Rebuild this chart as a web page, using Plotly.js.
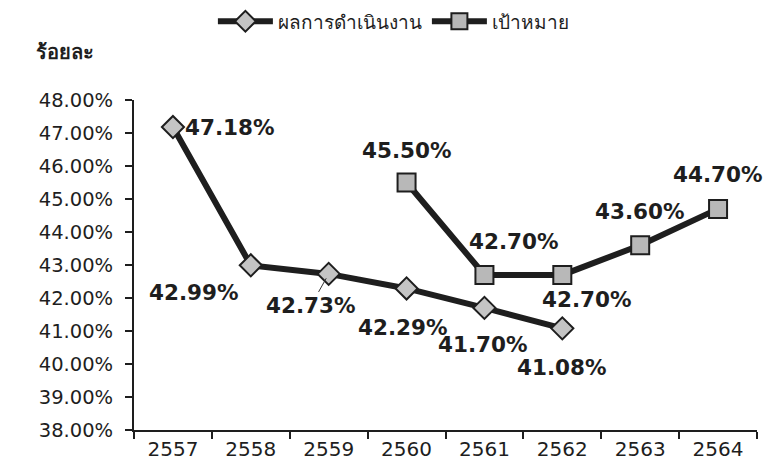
<!DOCTYPE html>
<html>
<head>
<meta charset="utf-8">
<script src="https://cdn.plot.ly/plotly-3.0.1.min.js"></script>
<style>html,body{margin:0;padding:0;background:#fff;}#chart{width:779px;height:471px;}</style>
</head>
<body>
<div id="chart"></div>
<script>
const years = ['2557','2558','2559','2560','2561','2562','2563','2564'];
const perfYears = ['2557','2558','2559','2560','2561','2562'];
const perfValues = [47.18, 42.99, 42.73, 42.29, 41.70, 41.08];
const targetYears = ['2560','2561','2562','2563','2564'];
const targetValues = [45.50, 42.70, 42.70, 43.60, 44.70];
const perfName = 'ผลการดำเนินงาน';
const targetName = 'เป้าหมาย';
const yTitle = 'ร้อยละ';

// label offsets in px (style only)
const perfOffsets = [[57,0],[-57,-27],[-18,-32],[-4,-39],[-1,-37],[0,-39]];
const targetOffsets = [[0,32],[30,33],[25,-25],[0,34],[0,34]];

const numFont = 'DejaVu Sans, Verdana, sans-serif';
const thaiFont = 'Tahoma, DejaVu Sans, Noto Sans, sans-serif';

const traces = [
  {
    x: perfYears, y: perfValues, name: perfName, type: 'scatter', mode: 'lines+markers',
    line: {color: '#1e1e1e', width: 6},
    marker: {symbol: 'diamond', size: 17, color: '#c4c4c4', line: {color: '#1e1e1e', width: 2}},
    cliponaxis: false
  },
  {
    x: targetYears, y: targetValues, name: targetName, type: 'scatter', mode: 'lines+markers',
    line: {color: '#1e1e1e', width: 6},
    marker: {symbol: 'square', size: 18, color: '#b8b8b8', line: {color: '#1e1e1e', width: 2}},
    cliponaxis: false
  }
];

const annotations = [];
const lblFont = {family: numFont, size: 21.5, color: '#1e1e1e', weight: 'bold'};
perfValues.forEach((v, i) => {
  const [dx, dy] = perfOffsets[i];
  const xi = years.indexOf(perfYears[i]);
  if (i === 2) {
    annotations.push({x: xi, y: v, xref: 'x', yref: 'y', text: v.toFixed(2) + '%',
      showarrow: true, arrowhead: 0, arrowwidth: 1, arrowcolor: '#333', ax: dx, ay: -dy, standoff: 5,
      font: lblFont});
  } else {
    annotations.push({x: xi, y: v, xref: 'x', yref: 'y', text: v.toFixed(2) + '%',
      showarrow: false, xshift: dx, yshift: dy, font: lblFont});
  }
});
targetValues.forEach((v, i) => {
  const [dx, dy] = targetOffsets[i];
  const xi = years.indexOf(targetYears[i]);
  annotations.push({x: xi, y: v, xref: 'x', yref: 'y', text: v.toFixed(2) + '%',
    showarrow: false, xshift: dx, yshift: dy, font: lblFont});
});
annotations.push({text: yTitle, xref: 'paper', yref: 'paper', x: -0.16, y: 1.145,
  xanchor: 'left', yanchor: 'middle', showarrow: false,
  font: {family: thaiFont, size: 20, color: '#1e1e1e', weight: 'bold'}});

const layout = {
  width: 779, height: 471,
  margin: {l: 134, r: 22, t: 100, b: 41},
  paper_bgcolor: '#fff', plot_bgcolor: '#fff',
  showlegend: true,
  legend: {orientation: 'h', xref: 'container', yref: 'container', x: 0.505, xanchor: 'center',
    y: 0.995, yanchor: 'top', font: {family: thaiFont, size: 19, color: '#1e1e1e'}, itemwidth: 55,
    bgcolor: 'rgba(0,0,0,0)'},
  xaxis: {
    type: 'category', categoryarray: years, categoryorder: 'array', range: [-0.5, 7.5],
    tickson: 'boundaries', ticks: 'outside', ticklen: 7, tickwidth: 2, tickcolor: '#1e1e1e',
    showline: true, linewidth: 2, linecolor: '#1e1e1e', showgrid: false, zeroline: false,
    tickfont: {family: numFont, size: 20, color: '#1e1e1e'}, fixedrange: true
  },
  yaxis: {
    range: [38, 48], dtick: 1, tick0: 38, tickformat: '.2f', ticksuffix: '%',
    ticks: 'outside', ticklen: 7, tickwidth: 2, tickcolor: '#1e1e1e',
    showline: true, linewidth: 2, linecolor: '#1e1e1e', showgrid: false, zeroline: false,
    tickfont: {family: numFont, size: 19.5, color: '#1e1e1e'}, ticklabelstandoff: 8, fixedrange: true
  },
  annotations: annotations
};

Plotly.newPlot('chart', traces, layout, {displayModeBar: false, staticPlot: true});
</script>
</body>
</html>
